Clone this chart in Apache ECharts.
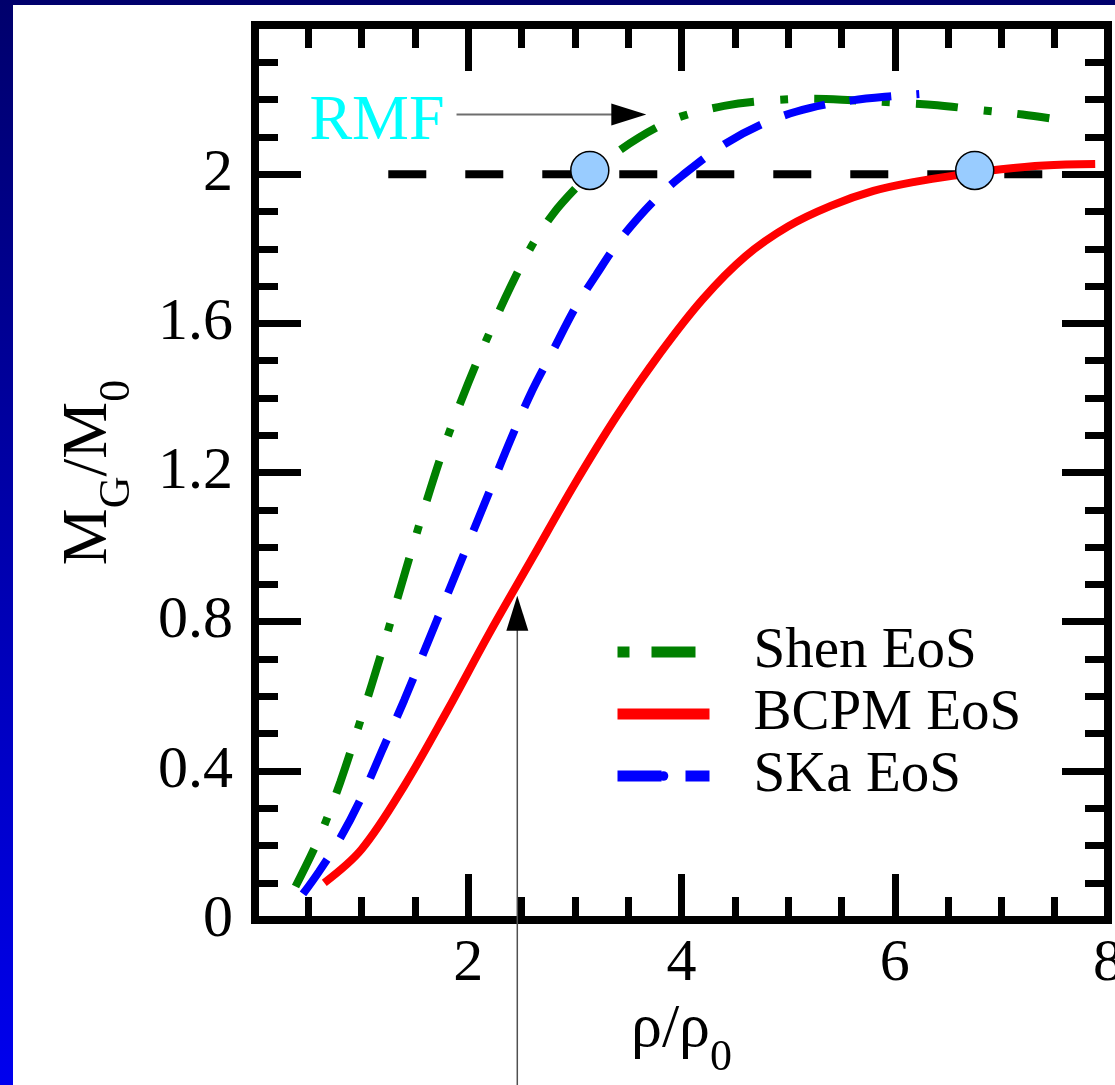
<!DOCTYPE html>
<html>
<head>
<meta charset="utf-8">
<script src="https://cdn.jsdelivr.net/npm/echarts@6/dist/echarts.min.js"></script>
<style>
  html, body { margin: 0; padding: 0; width: 1115px; height: 1085px; overflow: hidden;
    background: linear-gradient(to bottom, #00006c, #0000ee); }
  #chart { position: absolute; left: 13px; top: 5px; width: 1130px; height: 1080px; background: #fff; }
</style>
</head>
<body>
<div id="chart"></div>
<script>
// Gravitational mass vs. central density for three equations of state
const shenX = [0.38, 0.6, 0.8, 1.0, 1.2, 1.4, 1.6, 1.8, 2.0, 2.2, 2.4, 2.6, 2.8, 3.0, 3.2, 3.4, 3.6, 3.8, 4.0, 4.4, 4.8, 5.2, 5.6, 6.0, 6.4, 6.8, 7.2, 7.45];
const shenY = [0.09, 0.22, 0.37, 0.545, 0.73, 0.925, 1.115, 1.29, 1.44, 1.575, 1.70, 1.81, 1.895, 1.96, 2.015, 2.06, 2.098, 2.13, 2.155, 2.183, 2.197, 2.202, 2.198, 2.192, 2.185, 2.172, 2.16, 2.15];

const bcpmX = [0.65, 1.0, 1.4, 1.8, 2.2, 2.6, 3.0, 3.4, 3.8, 4.2, 4.6, 5.0, 5.4, 5.8, 6.2, 6.6, 7.0, 7.4, 7.88];
const bcpmY = [0.10, 0.19, 0.36, 0.56, 0.77, 0.97, 1.17, 1.355, 1.52, 1.665, 1.78, 1.86, 1.915, 1.955, 1.98, 1.998, 2.013, 2.023, 2.027];

const skaX = [0.45, 0.6, 0.8, 1.0, 1.2, 1.4, 1.6, 1.8, 2.0, 2.2, 2.4, 2.6, 2.8, 3.0, 3.2, 3.4, 3.6, 3.8, 4.0, 4.4, 4.8, 5.2, 5.6, 6.0, 6.23];
const skaY = [0.07, 0.13, 0.22, 0.33, 0.46, 0.59, 0.73, 0.87, 1.01, 1.15, 1.29, 1.42, 1.53, 1.64, 1.73, 1.815, 1.885, 1.945, 1.995, 2.08, 2.14, 2.177, 2.198, 2.21, 2.215];

// Two-solar-mass reference line and its crossings
const refLineX = [1.25, 7.39];
const refLineY = [2.0, 2.0];
const crossX = [3.14, 6.75];
const crossY = [2.01, 2.01];

// Axis ticks
const xTickValues = [0, 2, 4, 6, 8];
const xTickLabels = ['', '2', '4', '6', '8'];
const yTickValues = [0, 0.4, 0.8, 1.2, 1.6, 2.0, 2.4];
const yTickLabels = ['0', '0.4', '0.8', '1.2', '1.6', '2', ''];

// Annotations (data units)
const rmfLabelAt = [0.51, 2.14];
const rmfArrowFrom = [1.89, 2.16];
const rmfArrowTip = [3.67, 2.16];
const bcpmArrowTip = [2.46, 0.87];

const FONT = '"Liberation Serif", "DejaVu Serif", serif';

const zip = (xs, ys) => xs.map((x, i) => [x, ys[i]]);
const labelFor = (values, labels) => v => {
  const i = values.findIndex(t => Math.abs(t - v) < 1e-6);
  return i >= 0 ? labels[i] : '';
};

const lineOff = { show: false, onZero: false };
const tickCommon = { show: true, inside: true, length: 46, lineStyle: { width: 7, color: '#000' } };
const minorCommon = { show: true, splitNumber: 4, length: 23, lineStyle: { width: 7, color: '#000' } };

const chart = echarts.init(document.getElementById('chart'), null, { renderer: 'canvas' });

chart.setOption({
  animation: false,
  backgroundColor: '#fff',
  grid: { left: 242, top: 20, width: 853, height: 897, show: true, borderWidth: 8, borderColor: '#000', backgroundColor: 'transparent' },
  xAxis: [
    {
      type: 'value', position: 'bottom', min: 0, max: 8, interval: 2,
      axisLine: lineOff, splitLine: { show: false },
      axisTick: tickCommon, minorTick: minorCommon,
      axisLabel: { show: true, margin: 14, fontFamily: FONT, fontSize: 60, lineHeight: 60, color: '#000',
        alignMinLabel: 'center', alignMaxLabel: 'center',
        formatter: labelFor(xTickValues, xTickLabels) },
      name: '{m|ρ/ρ}{s|0}', nameLocation: 'middle', nameGap: 59,
      nameTextStyle: {
        rich: {
          m: { fontFamily: FONT, fontSize: 62, lineHeight: 100, color: '#000', verticalAlign: 'middle' },
          s: { fontFamily: FONT, fontSize: 44, lineHeight: 44, color: '#000', verticalAlign: 'bottom' }
        }
      }
    },
    {
      type: 'value', position: 'top', min: 0, max: 8, interval: 2,
      axisLine: lineOff, splitLine: { show: false },
      axisTick: tickCommon, minorTick: minorCommon, axisLabel: { show: false }
    }
  ],
  yAxis: [
    {
      type: 'value', position: 'left', min: 0, max: 2.4, interval: 0.4,
      axisLine: lineOff, splitLine: { show: false },
      axisTick: tickCommon, minorTick: minorCommon,
      axisLabel: { show: true, margin: 22, fontFamily: FONT, fontSize: 60, color: '#000',
        formatter: labelFor(yTickValues, yTickLabels) },
      name: '{m|M}{s|G}{m|/M}{s|0}', nameLocation: 'middle', nameRotate: 90, nameGap: 116,
      nameTextStyle: {
        rich: {
          m: { fontFamily: FONT, fontSize: 64, lineHeight: 100, color: '#000', verticalAlign: 'middle' },
          s: { fontFamily: FONT, fontSize: 44, lineHeight: 44, color: '#000', verticalAlign: 'bottom' }
        }
      }
    },
    {
      type: 'value', position: 'right', min: 0, max: 2.4, interval: 0.4,
      axisLine: lineOff, splitLine: { show: false },
      axisTick: tickCommon, minorTick: minorCommon, axisLabel: { show: false }
    }
  ],
  legend: {
    orient: 'vertical', left: 599, top: 616, padding: 0, itemWidth: 92, itemHeight: 12, itemGap: 0,
    selectedMode: false,
    data: [
      { name: 'Shen EoS', lineStyle: { type: [12, 22, 44, 26], dashOffset: 0 } },
      { name: 'BCPM EoS' },
      { name: 'SKa EoS', lineStyle: { type: [44, 24], dashOffset: 0 } }
    ],
    lineStyle: { width: 11 },
    textStyle: { fontFamily: FONT, fontSize: 57, lineHeight: 62, color: '#000', padding: [0, 0, 0, 39] }
  },
  series: [
    {
      name: 'ref', type: 'line', data: zip(refLineX, refLineY), symbol: 'none', silent: true,
      lineStyle: { color: '#000', width: 8, type: [38, 39] }
    },
    {
      name: 'Shen EoS', type: 'line', data: zip(shenX, shenY), symbol: 'none', smooth: 0.35,
      lineStyle: { color: '#008000', width: 8, type: [42, 26, 8, 26] }, itemStyle: { color: '#008000' }
    },
    {
      name: 'BCPM EoS', type: 'line', data: zip(bcpmX, bcpmY), symbol: 'none', smooth: 0.35,
      lineStyle: { color: '#ff0000', width: 8, type: 'solid' }, itemStyle: { color: '#ff0000' }
    },
    {
      name: 'SKa EoS', type: 'line', data: zip(skaX, skaY), symbol: 'none', smooth: 0.35,
      lineStyle: { color: '#0000ff', width: 8, type: [42, 25] }, itemStyle: { color: '#0000ff' }
    },
    {
      name: 'cross', type: 'scatter', data: zip(crossX, crossY), symbol: 'circle', symbolSize: 38, silent: true,
      itemStyle: { color: '#99ccff', borderColor: '#000', borderWidth: 1.5, opacity: 1 }, z: 5
    }
  ]
});

// Arrows and the RMF tag, placed through the grid's own coordinate mapping
const px = p => chart.convertToPixel({ gridIndex: 0 }, p);
const a0 = px(rmfArrowFrom), a1 = px(rmfArrowTip);
const b1 = px(bcpmArrowTip);
const lbl = px(rmfLabelAt);
const H = chart.getHeight();
const headLen = 35, headHalf = 11;

chart.setOption({
  graphic: [
    { type: 'line', z: 10, shape: { x1: a0[0], y1: a0[1], x2: a1[0] - headLen + 2, y2: a1[1] },
      style: { stroke: '#6e6e6e', lineWidth: 2 } },
    { type: 'polygon', z: 10, shape: { points: [[a1[0], a1[1]], [a1[0] - headLen, a1[1] - headHalf], [a1[0] - headLen, a1[1] + headHalf]] },
      style: { fill: '#000' } },
    { type: 'line', z: 10, shape: { x1: b1[0], y1: b1[1] + headLen - 2, x2: b1[0], y2: H },
      style: { stroke: '#505050', lineWidth: 1.5 } },
    { type: 'polygon', z: 10, shape: { points: [[b1[0], b1[1]], [b1[0] - headHalf, b1[1] + headLen], [b1[0] + headHalf, b1[1] + headLen]] },
      style: { fill: '#000' } },
    { type: 'text', z: 10, x: lbl[0], y: lbl[1],
      style: { text: 'RMF', fill: '#00ffff', fontFamily: FONT, fontSize: 64, align: 'left', verticalAlign: 'middle' } }
  ]
});
</script>
</body>
</html>
